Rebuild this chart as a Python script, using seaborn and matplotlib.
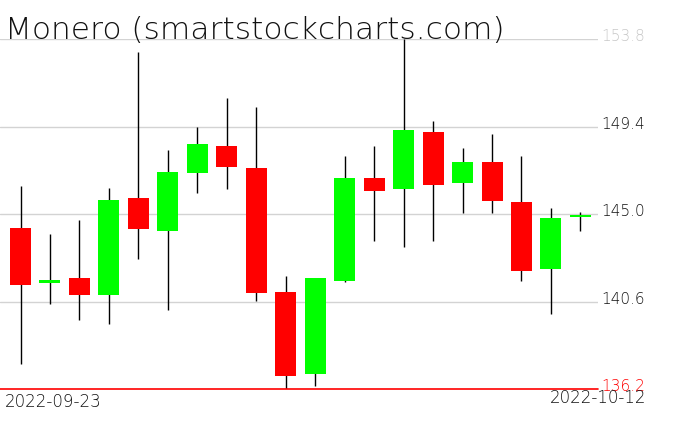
import matplotlib
matplotlib.use("Agg")
import matplotlib.pyplot as plt
import seaborn as sns
import pandas as pd

title = "Monero (smartstockcharts.com)"
start_label = "2022-09-23"
end_label = "2022-10-12"
y_ticks = [153.8, 149.4, 145.0, 140.6, 136.2]

opens = [144.30, 141.55, 141.78, 140.94, 145.80, 144.16, 147.08, 148.42, 147.31, 141.08,
         136.97, 141.65, 146.81, 146.27, 149.12, 146.57, 147.61, 145.60, 142.25, 144.86]
highs = [146.41, 143.99, 144.70, 146.31, 153.15, 148.22, 149.37, 150.83, 150.38, 141.90,
         141.78, 147.92, 148.42, 153.80, 149.68, 148.32, 149.02, 147.92, 145.30, 145.10]
lows = [137.47, 140.49, 139.69, 139.48, 142.75, 140.19, 146.07, 146.27, 140.64, 136.20,
        136.37, 141.60, 143.66, 143.36, 143.66, 145.07, 145.07, 141.65, 139.99, 144.16]
closes = [141.44, 141.68, 140.94, 145.70, 144.26, 147.11, 148.52, 147.38, 141.04, 136.87,
          141.78, 146.81, 146.17, 149.22, 146.47, 147.61, 145.67, 142.15, 144.80, 144.97]

df = pd.DataFrame({"open": opens, "high": highs, "low": lows, "close": closes})
df["idx"] = range(len(df))
df["bottom"] = df[["open", "close"]].min(axis=1)
df["height"] = (df["open"] - df["close"]).abs().clip(lower=0.1)
df["color"] = ["#00ff00" if c >= o else "#ff0000" for o, c in zip(df["open"], df["close"])]

sns.set_theme(style="white")
plt.rcParams["font.family"] = ["DejaVu Sans"]

W, H = 676, 431
fig = plt.figure(figsize=(W / 100, H / 100), dpi=100)
fig.patch.set_facecolor("white")
ax = fig.add_axes([0, 1 - 390 / H, 598 / W, 350 / H])
ax.set_facecolor("white")

ymin, ymax = 136.2, 153.8
ax.set_ylim(ymin, ymax)
step = 29.47
xa = -20.5 / step
ax.set_xlim(xa, xa + 598 / step)

for v in y_ticks[:-1]:
    ax.axhline(v, color="#d3d3d3", lw=1.0, zorder=1)
ax.axhline(ymin, color="#ff0000", lw=1.2, zorder=5, clip_on=False)

ax.vlines(df["idx"], df["low"], df["high"], color="black", lw=1.0, zorder=2)
ax.bar(df["idx"], df["height"], bottom=df["bottom"], width=0.713,
       color=df["color"], edgecolor="none", linewidth=0, zorder=3)

for s in ax.spines.values():
    s.set_visible(False)
ax.set_xticks([])
ax.set_yticks([])

tick_colors = ["#c8c8c8", "#111111", "#111111", "#111111", "#ff0000"]
for v, c in zip(y_ticks, tick_colors):
    ax.annotate(f"{v:.1f}", xy=(1.0, v), xycoords=("axes fraction", "data"),
                xytext=(3, 3), textcoords="offset pixels", ha="left", va="center",
                fontsize=11, color=c, fontweight="light", annotation_clip=False)

fig.text(5 / W, 1 - 39 / H, title, fontsize=22.5, color="#111111",
         ha="left", va="baseline", fontweight="light")
fig.text(5 / W, 1 - 407 / H, start_label, fontsize=12, color="#111111",
         ha="left", va="baseline", fontweight="light")
fig.text(646 / W, 1 - 403 / H, end_label, fontsize=12, color="#111111",
         ha="right", va="baseline", fontweight="light")

fig.savefig("out.png", dpi=100, facecolor="white")
